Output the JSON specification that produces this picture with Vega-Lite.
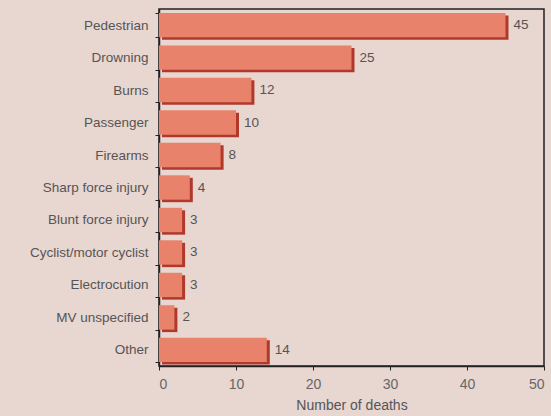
{
  "$schema": "https://vega.github.io/schema/vega-lite/v6.json",
  "width": 385,
  "height": 357,
  "autosize": {"type": "none"},
  "padding": {"left": 159, "top": 9, "right": 7, "bottom": 50},
  "background": "#E8D6D0",
  "config": {
    "view": {"stroke": "#222", "strokeWidth": 1.5},
    "font": "Liberation Sans"
  },
  "data": {
    "values": [
      {"cause": "Pedestrian", "deaths": 45},
      {"cause": "Drowning", "deaths": 25},
      {"cause": "Burns", "deaths": 12},
      {"cause": "Passenger", "deaths": 10},
      {"cause": "Firearms", "deaths": 8},
      {"cause": "Sharp force injury", "deaths": 4},
      {"cause": "Blunt force injury", "deaths": 3},
      {"cause": "Cyclist/motor cyclist", "deaths": 3},
      {"cause": "Electrocution", "deaths": 3},
      {"cause": "MV unspecified", "deaths": 2},
      {"cause": "Other", "deaths": 14}
    ]
  },
  "encoding": {
    "y": {
      "field": "cause", "type": "nominal", "sort": null,
      "scale": {"paddingInner": 0.25, "paddingOuter": 0.12},
      "axis": {
        "title": null, "tickBand": "extent", "domainColor": "#222", "domainWidth": 1.5,
        "tickColor": "#222", "tickSize": 4, "labelPadding": 7,
        "labelFontSize": 13.5, "labelColor": "#555"
      }
    },
    "x": {
      "field": "deaths", "type": "quantitative",
      "scale": {"domain": [0, 50], "nice": false},
      "axis": {
        "title": "Number of deaths", "values": [0, 10, 20, 30, 40, 50],
        "grid": false, "domainColor": "#222", "domainWidth": 1.5,
        "tickColor": "#222", "tickSize": 4, "labelPadding": 7,
        "labelFontSize": 14, "labelColor": "#666",
        "titleFontSize": 14, "titleFontWeight": "normal", "titleColor": "#555", "titlePadding": 7
      }
    }
  },
  "layer": [
    {"mark": {"type": "bar", "color": "#B0392C", "xOffset": 3, "yOffset": 2.5}},
    {"mark": {"type": "bar", "color": "#E8826B"}},
    {"mark": {"type": "text", "align": "left", "dx": 8, "fontSize": 13.5, "color": "#555"},
     "encoding": {"text": {"field": "deaths", "type": "quantitative"}}}
  ]
}
